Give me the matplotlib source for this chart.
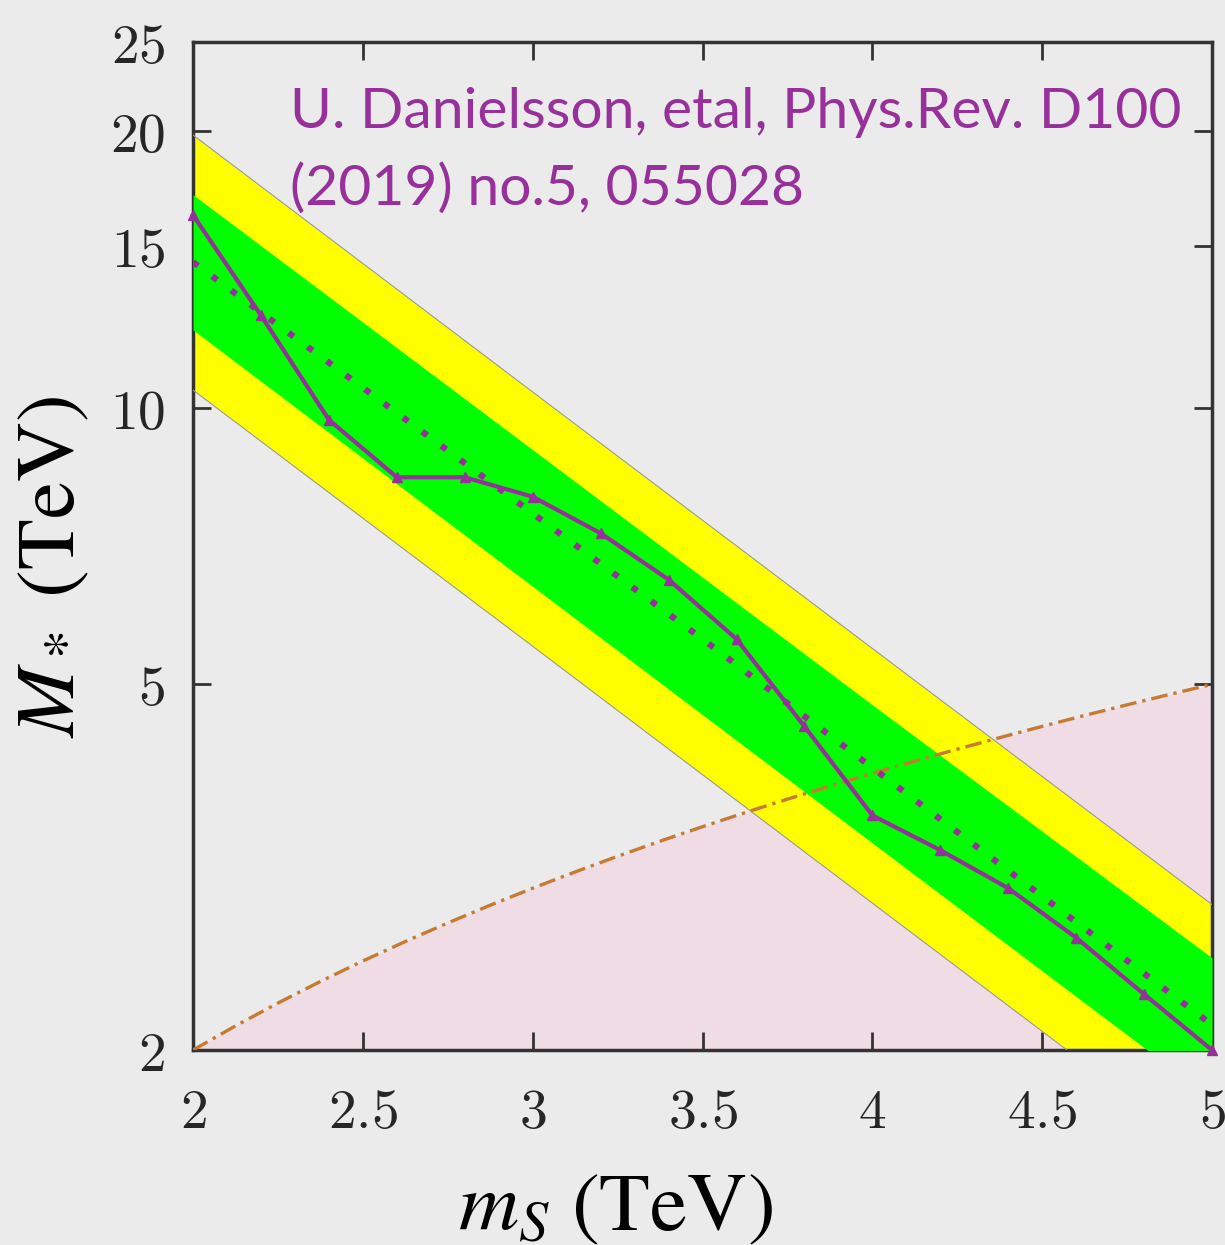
import matplotlib
matplotlib.use("Agg")
import matplotlib.pyplot as plt
import matplotlib.ticker as mticker

# --- Data ---
# observed limit (solid line with markers)
ms_obs = [2.0, 2.2, 2.4, 2.6, 2.8, 3.0, 3.2, 3.4, 3.6, 3.8, 4.0, 4.2, 4.4, 4.6, 4.8, 5.0]
mstar_obs = [16.2, 12.6, 9.7, 8.4, 8.4, 8.0, 7.3, 6.5, 5.6, 4.5, 3.6, 3.3, 3.0, 2.65, 2.3, 2.0]

# expected limit (dotted line)
ms_exp = [2.0, 3.5, 5.0]
mstar_exp = [14.4, 5.6, 2.13]

# 1 sigma / 2 sigma bands
ms_band = [2.0, 3.0, 4.0, 5.0]
yellow_hi = [19.8, 10.4, 5.47, 2.88]
green_hi = [17.05, 9.0, 4.75, 2.52]
green_lo = [12.15, 6.39, 3.36, 1.77]
yellow_lo = [10.45, 5.50, 2.89, 1.52]

# excluded region boundary (dash-dot)
ms_bound = [2.0, 2.125, 2.25, 2.375, 2.5, 2.625, 2.75, 2.875, 3.0, 3.125, 3.25,
            3.375, 3.5, 3.625, 3.75, 3.875, 4.0, 4.125, 4.25, 4.375, 4.5,
            4.625, 4.75, 4.875, 5.0]
mstar_bound = [2.0, 2.125, 2.25, 2.375, 2.5, 2.625, 2.75, 2.875, 3.0, 3.125, 3.25,
               3.375, 3.5, 3.625, 3.75, 3.875, 4.0, 4.125, 4.25, 4.375, 4.5,
               4.625, 4.75, 4.875, 5.0]

x_ticks = [2, 2.5, 3, 3.5, 4, 4.5, 5]
x_ticklabels = ['2', '2.5', '3', '3.5', '4', '4.5', '5']
y_ticks = [2, 5, 10, 15, 20, 25]
y_ticklabels = ['2', '5', '10', '15', '20', '25']

BG = '#ebebeb'
PURPLE = '#97309a'

fig = plt.figure(figsize=(12.25, 12.45), dpi=100, facecolor=BG)
ax = fig.add_axes([0.1576, 0.1566, 0.8318, 0.8097])
ax.set_facecolor(BG)

# pink excluded region
ax.fill_between(ms_bound, 1.0, mstar_bound, color='#f0dce4', lw=0, zorder=1)

# bands
ax.fill_between(ms_band, yellow_lo, yellow_hi, color='#ffff00', lw=0, zorder=2)
ax.fill_between(ms_band, green_lo, green_hi, color='#00ff00', lw=0, zorder=3)
ax.plot(ms_band, yellow_hi, color='#999999', lw=0.8, zorder=3)
ax.plot(ms_band, yellow_lo, color='#999999', lw=0.8, zorder=3)

# boundary line
ax.plot(ms_bound, mstar_bound, color='#c87a30', lw=2.4,
        linestyle=(0, (5, 1.8, 1, 1.8)), zorder=4)

# expected
ax.plot(ms_exp, mstar_exp, color=PURPLE, lw=4.5,
        linestyle=(0, (1.0, 2.8)), zorder=5)

# observed
ax.plot(ms_obs, mstar_obs, color=PURPLE, lw=3.0, marker='^', markersize=7,
        zorder=6, clip_on=False)

ax.set_yscale('log')
ax.set_xlim(2, 5)
ax.set_ylim(2, 25)

ax.xaxis.set_major_locator(mticker.FixedLocator(x_ticks))
ax.yaxis.set_major_locator(mticker.FixedLocator(y_ticks))
ax.yaxis.set_minor_locator(mticker.NullLocator())
ax.xaxis.set_minor_locator(mticker.NullLocator())
ax.set_xticklabels(['$' + t + '$' for t in x_ticklabels])
ax.set_yticklabels(['$' + t + '$' for t in y_ticklabels])
for lab in ax.get_xticklabels() + ax.get_yticklabels():
    lab.set_math_fontfamily('cm')
    lab.set_fontsize(40)
    lab.set_color('#262626')

ax.tick_params(direction='in', length=13, width=2, color='#333333',
               top=True, right=True)
ax.tick_params(axis='x', pad=26)
ax.tick_params(axis='y', pad=20)
for sp in ax.spines.values():
    sp.set_linewidth(2.5)
    sp.set_color('#333333')

xl = ax.set_xlabel(r'$m_S\ \mathrm{(TeV)}$', fontsize=60, labelpad=14)
yl = ax.set_ylabel(r'$M_*\ \mathrm{(TeV)}$', fontsize=60, labelpad=12)
xl.set_math_fontfamily('stix')
yl.set_math_fontfamily('stix')
ax.xaxis.set_label_coords(0.414, -0.115)
ax.yaxis.set_label_coords(-0.1, 0.479)

fig.text(290 / 1225, 1 - 128 / 1245, 'U. Danielsson, etal, Phys.Rev. D100',
         color=PURPLE, fontsize=41, family='Lato', va='baseline')
fig.text(290 / 1225, 1 - 205 / 1245, '(2019) no.5, 055028',
         color=PURPLE, fontsize=41, family='Lato', va='baseline')

fig.savefig('out.png', dpi=100, facecolor=BG)
